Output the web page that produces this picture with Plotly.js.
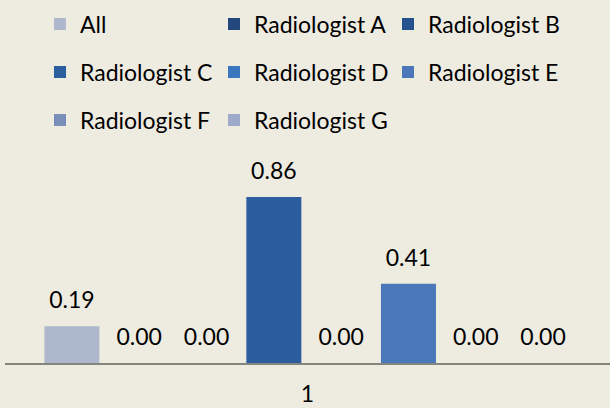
<!DOCTYPE html>
<html>
<head>
<meta charset="utf-8">
<script src="https://cdn.plot.ly/plotly-3.0.1.min.js"></script>
<style>html,body{margin:0;padding:0;background:#EEECE1;}#chart{width:610px;height:408px;}</style>
</head>
<body>
<div id="chart"></div>
<script>
const categories = ['1'];
const seriesNames = ['All', 'Radiologist A', 'Radiologist B', 'Radiologist C', 'Radiologist D', 'Radiologist E', 'Radiologist F', 'Radiologist G'];
const seriesValues = [0.19, 0.00, 0.00, 0.86, 0.00, 0.41, 0.00, 0.00];

const seriesColors = ['#ADB8CD', '#22487E', '#26518F', '#2C5D9E', '#3A76C0', '#4A78B8', '#7A8EBA', '#9DAACA'];
const legendIds = ['legend', 'legend', 'legend', 'legend2', 'legend2', 'legend2', 'legend3', 'legend3'];

const FONT = 'Lato, "Open Sans", sans-serif';
const FS = 23;
const traces = [];
seriesNames.forEach(function (name, i) {
  traces.push({
    type: 'bar',
    name: name,
    x: categories,
    y: [seriesValues[i]],
    marker: { color: seriesColors[i], line: { width: 0 } },
    legend: legendIds[i],
    hoverinfo: 'skip'
  });
});
seriesNames.forEach(function (name, i) {
  traces.push({
    type: 'scatter',
    mode: 'markers+text',
    name: name + ' label',
    x: categories,
    y: [seriesValues[i]],
    texttemplate: '%{y:.2f}',
    textposition: 'top center',
    textfont: { family: FONT, size: FS, color: '#000000' },
    marker: { size: 18, color: 'rgba(0,0,0,0)' },
    showlegend: false,
    cliponaxis: false,
    hoverinfo: 'skip'
  });
});

function legendCfg(yPix) {
  return {
    orientation: 'h',
    xref: 'container', yref: 'container',
    x: 40 / 610, xanchor: 'left',
    y: 1 - yPix / 408, yanchor: 'middle',
    entrywidth: 129, entrywidthmode: 'pixels',
    font: { family: FONT, size: FS, color: '#000000' },
    bgcolor: 'rgba(0,0,0,0)',
    traceorder: 'normal',
    itemclick: false, itemdoubleclick: false
  };
}

const layout = {
  width: 610, height: 408,
  paper_bgcolor: '#EEECE1', plot_bgcolor: '#EEECE1',
  margin: { l: 5, r: 0, t: 170, b: 45, pad: 0 },
  barmode: 'group', bargap: 0.11, bargroupgap: 0.183,
  scattermode: 'group', scattergap: 0.11,
  hovermode: false,
  font: { family: FONT, size: FS, color: '#000000' },
  xaxis: {
    type: 'category', range: [-0.5, 0.5],
    showline: true, linecolor: '#858580', linewidth: 2,
    ticks: '', ticklabelstandoff: 9,
    tickfont: { family: FONT, size: FS, color: '#000000' },
    showgrid: false, zeroline: false, fixedrange: true
  },
  yaxis: {
    range: [0, 1], visible: false, showgrid: false, zeroline: false, fixedrange: true
  },
  legend: legendCfg(24),
  legend2: legendCfg(72),
  legend3: legendCfg(120)
};

Plotly.newPlot('chart', traces, layout, { displayModeBar: false, staticPlot: true });
</script>
</body>
</html>
